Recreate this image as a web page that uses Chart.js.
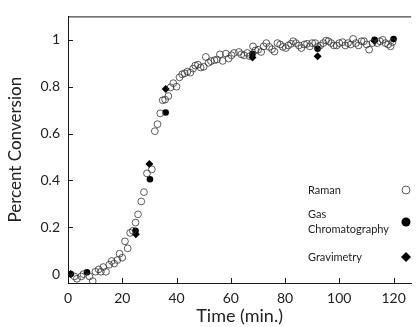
<!DOCTYPE html>
<html>
<head>
<meta charset="utf-8">
<script src="https://cdn.jsdelivr.net/npm/chart.js@4.4.1/dist/chart.umd.min.js"></script>
<style>
  html, body { margin: 0; padding: 0; background: #fff; }
  #wrap { width: 416px; height: 327px; }
</style>
</head>
<body>
<div id="wrap"><canvas id="scatterChart"></canvas></div>
<script>
// values
var ramanTime = [2.4, 3.3, 4.9, 5.7, 7.9, 9.1, 10.1, 11.3, 12.1, 13, 14, 15.2, 16.1, 17, 18.2, 19, 20, 21, 22, 22.9,
  23.9, 24.9, 25.8, 27, 28, 29.1, 30.9, 32, 33, 34, 34.9, 35.8, 37, 37.8, 38.8, 40, 41.1, 42.1, 43, 44,
  45.1, 46.1, 46.9, 47.9, 48.9, 50, 50.8, 51.8, 52.7, 54, 54.9, 56, 57, 58.2, 59.2, 60.3, 61.2, 63, 63.9, 64.9,
  66.1, 67, 68.2, 69.1, 70.1, 71.2, 72.1, 73.1, 74.2, 75.2, 76.1, 77.2, 78.2, 79.2, 80.3, 81.2, 82.2, 83, 84, 85.1,
  86, 87.1, 88.1, 89.1, 90, 91.1, 92.1, 93, 94.1, 95.1, 96, 97, 98, 99, 100, 101.2, 102.2, 103.2, 104.2, 105.1,
  106.1, 107.1, 108.2, 109.1, 110.1, 111, 112.2, 114, 115, 116, 117, 118, 118.9, 119.6]
var ramanConv = [-0.01, -0.02, -0.01, 0, -0.01, -0.03, 0.01, 0.02, 0.01, 0.03, 0.01, 0.04, 0.056, 0.045, 0.06, 0.087, 0.07, 0.14, 0.11, 0.176,
  0.185, 0.22, 0.255, 0.31, 0.35, 0.43, 0.447, 0.61, 0.64, 0.686, 0.742, 0.745, 0.76, 0.797, 0.815, 0.80, 0.84, 0.853, 0.857, 0.864,
  0.86, 0.877, 0.89, 0.894, 0.882, 0.885, 0.927, 0.902, 0.909, 0.913, 0.916, 0.938, 0.91, 0.941, 0.92, 0.934, 0.944, 0.948, 0.938, 0.934,
  0.944, 0.93, 0.972, 0.955, 0.958, 0.948, 0.972, 0.986, 0.97, 0.96, 0.95, 0.986, 0.98, 0.97, 0.965, 0.976, 0.983, 0.994, 0.986, 0.976,
  0.965, 0.98, 0.983, 0.972, 0.986, 0.986, 0.97, 0.976, 0.986, 0.997, 0.994, 0.986, 0.976, 0.976, 0.986, 0.99, 0.976, 0.986, 0.98, 1.004,
  0.986, 0.976, 0.994, 0.994, 0.98, 0.958, 0.986, 0.986, 0.994, 1.0, 0.986, 0.98, 0.972, 0.99]

var gcTime = [1, 7, 24.9, 30.2, 36, 68, 92, 113, 120]
var gcConv = [0, 0.008, 0.185, 0.405, 0.69, 0.94, 0.962, 1.0, 1.003]

var gravTime = [1, 25, 30, 36, 68, 92, 113]
var gravConv = [0, 0.17, 0.47, 0.79, 0.925, 0.93, 0.995]

var xTicks = [0, 20, 40, 60, 80, 100, 120]
var yTicks = [0, 0.2, 0.4, 0.6, 0.8, 1]

var legendItems = [
  { lines: ['Raman'], style: 'open' },
  { lines: ['Gas', 'Chromatography'], style: 'dot' },
  { lines: ['Gravimetry'], style: 'diamond' }
]

function pairs(xs, ys) {
  return xs.map(function (x, i) { return { x: x, y: ys[i] } })
}

var ink = '#1a1a1a'
var fontFamily = 'Lato, "Open Sans", sans-serif'

// inward tick marks, top frame line and the in-plot legend
var framePlugin = {
  id: 'frame',
  afterDraw: function (chart) {
    var ctx = chart.ctx, a = chart.chartArea
    var xs = chart.scales.x, ys = chart.scales.y
    ctx.save()
    ctx.strokeStyle = ink
    ctx.lineWidth = 1
    ctx.beginPath()
    ctx.moveTo(a.left, a.top + 0.5)
    ctx.lineTo(a.right, a.top + 0.5)
    xTicks.forEach(function (v) {
      var px = Math.round(xs.getPixelForValue(v)) + 0.5
      ctx.moveTo(px, a.bottom)
      ctx.lineTo(px, a.bottom - 5)
    })
    yTicks.forEach(function (v) {
      var py = Math.round(ys.getPixelForValue(v)) + 0.5
      ctx.moveTo(a.left, py)
      ctx.lineTo(a.left + 5, py)
    })
    ctx.stroke()

    // legend
    ctx.font = '11px ' + fontFamily
    ctx.fillStyle = '#222'
    ctx.textBaseline = 'middle'
    var rows = [190, 222, 257]
    legendItems.forEach(function (it, i) {
      var cy = rows[i]
      var n = it.lines.length
      it.lines.forEach(function (t, j) {
        ctx.fillText(t, 308, cy + (j - (n - 1) / 2) * 14.5)
      })
      var sx = 406
      ctx.beginPath()
      if (it.style === 'open') {
        ctx.arc(sx, cy, 4, 0, Math.PI * 2)
        ctx.fillStyle = '#fff'
        ctx.fill()
        ctx.strokeStyle = '#333'
        ctx.lineWidth = 0.8
        ctx.stroke()
      } else if (it.style === 'dot') {
        ctx.arc(sx, cy, 4.5, 0, Math.PI * 2)
        ctx.fillStyle = '#000'
        ctx.fill()
      } else {
        ctx.moveTo(sx, cy - 5)
        ctx.lineTo(sx + 5, cy)
        ctx.lineTo(sx, cy + 5)
        ctx.lineTo(sx - 5, cy)
        ctx.closePath()
        ctx.fillStyle = '#000'
        ctx.fill()
      }
      ctx.fillStyle = '#222'
    })
    ctx.restore()
  }
}

var ctx = document.getElementById('scatterChart').getContext('2d')
new Chart(ctx, {
  type: 'scatter',
  data: {
    datasets: [
      {
        label: 'Raman',
        data: pairs(ramanTime, ramanConv),
        pointStyle: 'circle',
        pointRadius: 3.4,
        pointBackgroundColor: 'rgba(255,255,255,0)',
        pointBorderColor: '#333',
        pointBorderWidth: 0.8
      },
      {
        label: 'Gas Chromatography',
        data: pairs(gcTime, gcConv),
        pointStyle: 'circle',
        pointRadius: 3.3,
        pointBackgroundColor: '#000',
        pointBorderColor: '#000',
        pointBorderWidth: 0
      },
      {
        label: 'Gravimetry',
        data: pairs(gravTime, gravConv),
        pointStyle: 'rectRot',
        pointRadius: 4,
        pointBackgroundColor: '#000',
        pointBorderColor: '#000',
        pointBorderWidth: 0
      }
    ]
  },
  options: {
    responsive: true,
    maintainAspectRatio: false,
    animation: false,
    layout: { padding: { top: 12, right: 0, left: 0, bottom: 0 } },
    plugins: {
      legend: { display: false },
      tooltip: { enabled: false }
    },
    scales: {
      x: {
        type: 'linear',
        min: 0,
        max: 126.5,
        afterFit: function (s) { s.height = 44 },
        afterBuildTicks: function (s) { s.ticks = xTicks.map(function (v) { return { value: v } }) },
        grid: { display: false, drawTicks: false },
        border: { display: true, color: ink, width: 1 },
        ticks: { color: '#222', padding: 7, font: { family: fontFamily, size: 14 } },
        title: {
          display: true,
          text: 'Time (min.)',
          color: '#222',
          padding: { top: 0, bottom: 0 },
          font: { family: fontFamily, size: 18 }
        }
      },
      y: {
        type: 'linear',
        min: -0.038,
        max: 1.1,
        afterFit: function (s) { s.width = 68 },
        afterBuildTicks: function (s) { s.ticks = yTicks.map(function (v) { return { value: v } }) },
        grid: { display: false, drawTicks: false },
        border: { display: true, color: ink, width: 1 },
        ticks: {
          color: '#222',
          padding: 8,
          font: { family: fontFamily, size: 14 },
          callback: function (v) { return String(v) }
        },
        title: {
          display: true,
          text: 'Percent Conversion',
          color: '#222',
          padding: { top: 5, bottom: 0 },
          font: { family: fontFamily, size: 17 }
        }
      }
    }
  },
  plugins: [framePlugin]
})
</script>
</body>
</html>
